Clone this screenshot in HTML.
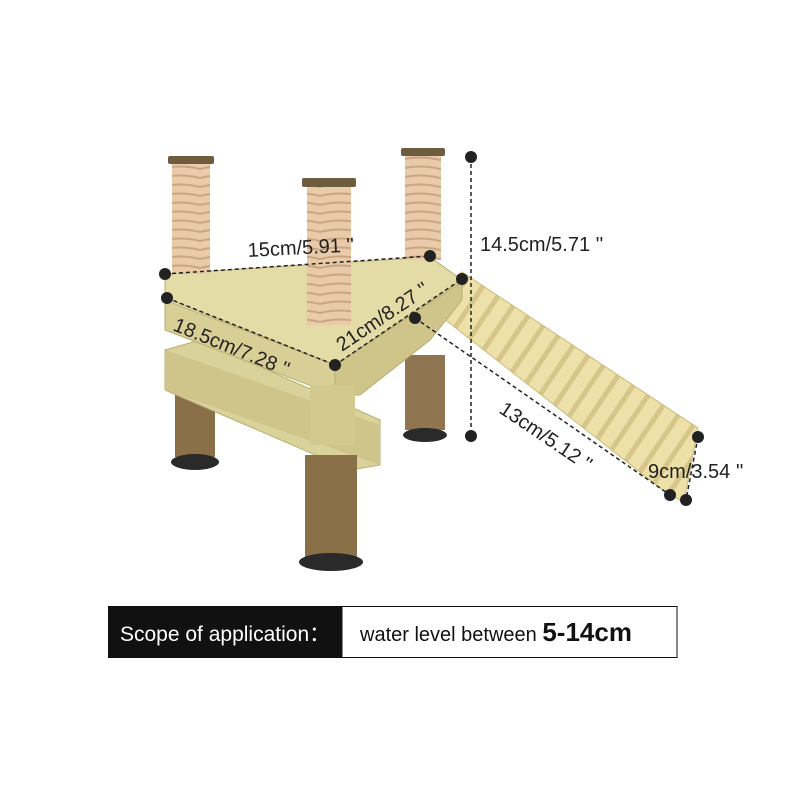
<!DOCTYPE html>
<html><head><meta charset="utf-8"><style>
html,body{margin:0;padding:0;background:#fff;width:800px;height:800px;overflow:hidden}
svg{display:block}
text{font-family:"Liberation Sans",sans-serif}
</style></head><body>
<svg width="800" height="800" viewBox="0 0 800 800">
<defs>
<pattern id="rope" width="40" height="9" patternUnits="userSpaceOnUse">
<rect width="40" height="9" fill="#e9cba9"/><path d="M0 7 Q20 2 40 7" stroke="#c9a582" stroke-width="2" fill="none"/>
</pattern>
<pattern id="ridge" width="18" height="18" patternUnits="userSpaceOnUse" patternTransform="rotate(34)">
<rect width="18" height="18" fill="#ede0a8"/><rect x="0" width="5" height="18" fill="#d6c68a"/>
</pattern>
</defs>
<rect x="405" y="355" width="40" height="75" fill="#8f7650"/>
<ellipse cx="425" cy="435" rx="22" ry="7" fill="#2a2a2a"/>
<polygon points="420,300 462,272 698,428 684,502 668,494" fill="url(#ridge)" stroke="#c9bb80"/>
<rect x="175" y="385" width="40" height="72" fill="#8a7049"/>
<ellipse cx="195" cy="462" rx="24" ry="8" fill="#2a2a2a"/>
<polygon points="165,350 200,340 380,420 380,465 350,470 165,390" fill="#d9d29a" stroke="#b8ae70"/>
<polygon points="165,350 380,425 380,465 165,390" fill="#cfc48a"/>
<polygon points="165,300 335,365 335,395 165,330" fill="#d8cf96" stroke="#b8ae70"/>
<polygon points="335,365 462,282 462,300 430,340 360,395 335,395" fill="#cfc48a" stroke="#b8ae70"/>
<rect x="310" y="385" width="45" height="60" fill="#d3c98f"/>
<rect x="305" y="455" width="52" height="103" fill="#8a7049"/>
<ellipse cx="331" cy="562" rx="32" ry="9" fill="#2a2a2a"/>
<polygon points="165,274 430,257 462,280 335,365 165,298" fill="#e4dca6" stroke="#b8ae70"/>
<rect x="172" y="162" width="38" height="112" fill="url(#rope)"/>
<rect x="168" y="156" width="46" height="8" fill="#6e5c3e" rx="2"/>
<rect x="405" y="152" width="36" height="108" fill="url(#rope)"/>
<rect x="401" y="148" width="44" height="8" fill="#6e5c3e" rx="2"/>
<rect x="307" y="185" width="44" height="140" fill="url(#rope)"/>
<rect x="302" y="178" width="54" height="9" fill="#6e5c3e" rx="2"/>
<g stroke="#222" stroke-width="1.5" stroke-dasharray="4,3" fill="none">
<line x1="165" y1="274" x2="430" y2="256"/>
<line x1="167" y1="298" x2="335" y2="365"/>
<line x1="335" y1="365" x2="462" y2="279"/>
<line x1="471" y1="157" x2="471" y2="436"/>
<line x1="415" y1="318" x2="670" y2="495"/>
<line x1="698" y1="437" x2="686" y2="500"/>
</g>
<g fill="#222">
<circle cx="165" cy="274" r="6"/><circle cx="430" cy="256" r="6"/>
<circle cx="167" cy="298" r="6"/><circle cx="335" cy="365" r="6"/>
<circle cx="462" cy="279" r="6"/><circle cx="471" cy="157" r="6"/>
<circle cx="471" cy="436" r="6"/><circle cx="415" cy="318" r="6"/>
<circle cx="670" cy="495" r="6"/><circle cx="698" cy="437" r="6"/>
<circle cx="686" cy="500" r="6"/>
</g>
<g font-size="20" fill="#222">
<text x="248" y="257" transform="rotate(-3 248 257)">15cm/5.91 ''</text>
<text x="480" y="251">14.5cm/5.71 ''</text>
<text x="172" y="330" transform="rotate(22 172 330)">18.5cm/7.28 ''</text>
<text x="342" y="352" transform="rotate(-34 342 352)">21cm/8.27 ''</text>
<text x="498" y="412" transform="rotate(34 498 412)">13cm/5.12 ''</text>
<text x="648" y="478">9cm/3.54 ''</text>
</g>
<rect x="108" y="606" width="234" height="52" fill="#111"/>
<rect x="342" y="606.5" width="335" height="51" fill="#fff" stroke="#111" stroke-width="1"/>
<text x="120" y="641" font-size="21" fill="#fff">Scope of application：</text>
<text x="360" y="641" font-size="20" fill="#111">water level between <tspan font-size="26" font-weight="bold">5-14cm</tspan></text>
</svg>
</body></html>
